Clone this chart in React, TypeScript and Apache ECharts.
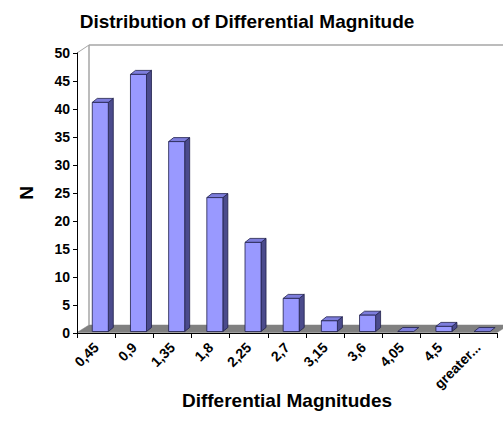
import React, { useEffect, useRef } from "react";
import * as echarts from "echarts";

const categories = ["0,45", "0,9", "1,35", "1,8", "2,25", "2,7", "3,15", "3,6", "4,05", "4,5", "greater..."];
const counts = [41, 46, 34, 24, 16, 6, 2, 3, 0, 1, 0];
const yTicks = { min: 0, max: 50, interval: 5 };

const FRONT = "#9999ff";
const SIDE = "#4b4b8c";
const TOP = "#7d7ddc";
const EDGE = "#20204a";
const FONT = "'Liberation Sans', Arial, sans-serif";

export default function App() {
  const ref = useRef<HTMLDivElement>(null);
  useEffect(() => {
    if (!ref.current) return;
    const chart = echarts.init(ref.current, null, { renderer: "svg" });
    const DX = 12, DY = 8;
    chart.setOption({
      animation: false,
      backgroundColor: "#ffffff",
      title: {
        text: "Distribution of Differential Magnitude",
        left: 242,
        textAlign: "center",
        top: 7,
        textStyle: { fontFamily: FONT, fontWeight: "bold", fontSize: 19, color: "#000" },
      },
      grid: { left: 77, top: 53, width: 420, height: 280, containLabel: false },
      xAxis: {
        type: "category",
        data: categories,
        z: 10,
        boundaryGap: true,
        name: "Differential Magnitudes",
        nameLocation: "middle",
        nameGap: 58,
        nameMoveOverlap: false,
        nameTextStyle: { fontFamily: FONT, fontWeight: "bold", fontSize: 19, color: "#000" },
        axisLine: { lineStyle: { color: "#000", width: 1 } },
        axisTick: { show: true, length: 5, lineStyle: { color: "#000" } },
        axisLabel: {
          rotate: 45,
          interval: 0,
          margin: 12,
          fontFamily: FONT,
          fontWeight: "bold",
          fontSize: 14,
          color: "#000",
        },
        splitLine: { show: false },
      },
      yAxis: {
        type: "value",
        min: yTicks.min,
        max: yTicks.max,
        interval: yTicks.interval,
        z: 10,
        name: "N",
        nameLocation: "middle",
        nameGap: 41,
        nameMoveOverlap: false,
        nameTextStyle: { fontFamily: FONT, fontWeight: "bold", fontSize: 19, color: "#000" },
        axisLine: { show: true, lineStyle: { color: "#000", width: 1 } },
        axisTick: { show: true, length: 4, lineStyle: { color: "#000" } },
        axisLabel: { margin: 7, fontFamily: FONT, fontWeight: "bold", fontSize: 14, color: "#000" },
        splitLine: { show: false },
      },
      series: [
        {
          type: "custom",
          z: 1,
          silent: true,
          data: [[0, 0]],
          encode: { x: 0, y: 1 },
          renderItem: (params: any, api: any) => {
            const cs = params.coordSys;
            const x0 = cs.x, x1 = cs.x + cs.width;
            const y0 = cs.y, y1 = cs.y + cs.height;
            const lineStyle = { stroke: "#a6a6a6", lineWidth: 1.5, fill: "none" };
            return {
              type: "group",
              children: [
                {
                  type: "polygon",
                  shape: { points: [[x0, y1 - 0.5], [x0 + DX, y1 - DY], [x1 + DX, y1 - DY], [x1, y1 - 0.5]] },
                  style: { fill: "#808080", stroke: "#808080", lineWidth: 0.5 },
                },
                { type: "line", shape: { x1: x0 + DX, y1: y1 - DY, x2: x0 + DX, y2: y0 - DY }, style: lineStyle },
                { type: "line", shape: { x1: x0 + DX, y1: y0 - DY, x2: x1 + DX, y2: y0 - DY }, style: lineStyle },
                { type: "line", shape: { x1: x0, y1: y0, x2: x0 + DX, y2: y0 - DY }, style: { stroke: "#a6a6a6", lineWidth: 1 } },
              ],
            };
          },
        },
        {
          type: "custom",
          z: 5,
          data: counts.map((v, i) => [i, v]),
          encode: { x: 0, y: 1 },
          renderItem: (params: any, api: any) => {
            const idx = api.value(0);
            const v = api.value(1);
            const b = api.coord([idx, 0]);
            const t = api.coord([idx, v]);
            const band = api.size([1, 0])[0];
            const w = band * 0.42;
            const left = b[0] - band * 0.1;
            const yb = b[1] - 1.5;
            const yt = Math.min(t[1] - 1, yb);
            const dx = 5, dy = 4;
            const st = { stroke: EDGE, lineWidth: 0.8 };
            const children: any[] = [];
            if (yb - yt > 0.5) {
              children.push({
                type: "polygon",
                shape: { points: [[left + w, yb], [left + w + dx, yb - dy], [left + w + dx, yt - dy], [left + w, yt]] },
                style: { fill: SIDE, ...st },
              });
            }
            children.push({
              type: "polygon",
              shape: { points: [[left, yt], [left + dx, yt - dy], [left + w + dx, yt - dy], [left + w, yt]] },
              style: { fill: TOP, ...st },
            });
            if (yb - yt > 0.5) {
              children.push({
                type: "rect",
                shape: { x: left, y: yt, width: w, height: yb - yt },
                style: { fill: FRONT, ...st },
              });
            }
            return { type: "group", children };
          },
        },
      ],
    });
    return () => chart.dispose();
  }, []);
  return (
    <div
      ref={ref}
      style={{ position: "fixed", left: 0, top: 0, width: 503, height: 439, background: "#fff" }}
    />
  );
}
